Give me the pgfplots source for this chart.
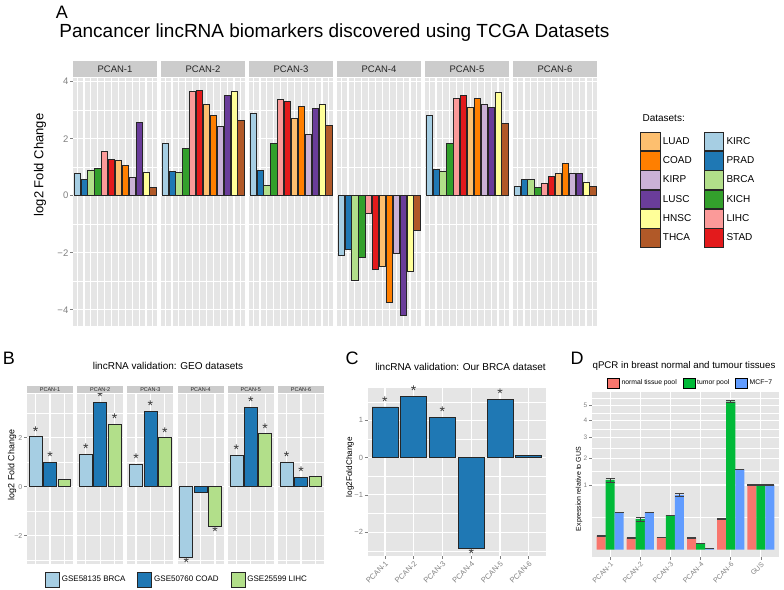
\documentclass[border=0pt]{standalone}
\usepackage{fontspec}
\setmainfont{Liberation Sans}
\usepackage{pgfplots}
\pgfplotsset{compat=1.18}
\usepackage{pgfplotstable}

\definecolor{c1}{HTML}{A6CEE3}
\definecolor{c2}{HTML}{1F78B4}
\definecolor{c3}{HTML}{B2DF8A}
\definecolor{c4}{HTML}{33A02C}
\definecolor{c5}{HTML}{FB9A99}
\definecolor{c6}{HTML}{E31A1C}
\definecolor{c7}{HTML}{FDBF6F}
\definecolor{c8}{HTML}{FF7F00}
\definecolor{c9}{HTML}{CAB2D6}
\definecolor{c10}{HTML}{6A3D9A}
\definecolor{c11}{HTML}{FFFF99}
\definecolor{c12}{HTML}{B15928}
\definecolor{bg}{HTML}{E5E5E5}
\definecolor{strip}{HTML}{CCCCCC}
\definecolor{grey50}{HTML}{7F7F7F}
\definecolor{dR}{HTML}{F8766D}
\definecolor{dG}{HTML}{00BA38}
\definecolor{dB}{HTML}{619CFF}

\newcommand\fs[1]{\fontsize{#1}{#1}\selectfont}

% Panel A: rows = datasets KIRC PRAD BRCA KICH LIHC STAD LUAD COAD KIRP LUSC HNSC THCA
\pgfplotstableread{
idx P1 P2 P3 P4 P5 P6
1 0.77 1.82 2.88 -2.08 2.83 0.34
2 0.57 0.87 0.88 -1.88 0.94 0.56
3 0.90 0.83 0.36 -2.96 0.87 0.56
4 0.96 1.65 1.85 -2.15 1.84 0.30
5 1.56 3.65 3.39 -0.62 3.40 0.42
6 1.29 3.68 3.32 -2.57 3.51 0.68
7 1.23 3.19 2.71 -2.49 3.11 0.77
8 1.08 2.83 3.12 -3.75 3.43 1.15
9 0.63 2.42 2.15 -2.01 3.19 0.78
10 2.56 3.53 3.06 -4.19 3.09 0.80
11 0.83 3.66 3.22 -2.67 3.63 0.47
12 0.29 2.64 2.46 -1.23 2.54 0.34
}\dataA

% Panel D: expression relative to GUS (n = normal tissue pool, t = tumor pool, m = MCF-7); errors on sqrt scale
\pgfplotstableread{
g n t m en et em
1 0.044 1.161 0.332 0.003 0.030 0.003
2 0.032 0.223 0.332 0.003 0.030 0.003
3 0.035 0.280 0.714 0.003 0.004 0.025
4 0.032 0.009 0.0003 0.003 0.003 0.003
5 0.228 5.256 1.545 0.003 0.018 0.003
6 1 1 1 0.003 0.003 0.003
}\dataD

\pgfplotsset{
 gg/.style={scale only axis, anchor=south west, ybar,
   axis background/.style={fill=bg}, axis line style={draw=none},
   xmajorgrids, ymajorgrids, yminorgrids,
   major grid style={white, line width=1.1pt},
   minor grid style={white, line width=0.5pt},
   tick pos=left, tick align=outside, major tick length=3pt, minor tick length=0pt,
   tick style={grey50, line width=0.6pt},
   ticklabel style={text=grey50}},
 facetA/.style={width=84pt, height=248pt, xmin=0.4, xmax=12.6, ymin=-4.57, ymax=4.13,
   xtick={1,...,12}, xticklabels={}, xtick style={draw=none},
   ytick={-4,-2,0,2,4}, minor ytick={-3,-1,1,3}, yticklabels={}, major tick length=0pt,
   yticklabel style={font=\fs{9.5}, inner sep=1.5pt},
   every axis title/.style={at={(0.5,1)}, anchor=south, yshift=1pt, fill=strip,
     minimum width=84pt, minimum height=15.5pt, inner sep=0pt, font=\fs{9.5}, text=black!85}},
 facetB/.style={width=46pt, height=170pt, xmin=0.4, xmax=3.6, ymin=-3.15, ymax=3.78,
   xtick={1,2,3}, xticklabels={}, xtick style={draw=none},
   ytick={-2,0,2}, minor ytick={-3,-1,1,3}, yticklabels={}, major tick length=0pt,
   yticklabel style={font=\fs{7}, inner sep=1.5pt},
   every axis title/.style={at={(0.5,1)}, anchor=south, yshift=0.5pt, fill=strip,
     minimum width=46pt, minimum height=7.5pt, inner sep=0pt, font=\fs{5.5}, text=black!85}},
 S/.style={nodes near coords={*}, nodes near coords style={font=\fs{14}, text=black!80, inner sep=0.3pt}},
 N/.style={},
 bbar/.style={bar width=0.9, bar shift=0pt, draw=black!85, line width=0.7pt},
}

\newcommand\facetA[4]{%
\begin{axis}[gg, facetA, at={(#1pt,263pt)}, title={#3}, #4]
\pgfplotsinvokeforeach{1,...,12}{%
 \addplot[bbar, fill=c##1, restrict x to domain=##1:##1] table[x=idx, y=#2]{\dataA};
}
\end{axis}}

\newcommand\facetB[9]{%
\begin{axis}[gg, facetB, at={(#1pt,25pt)}, title={#2}, #9]
\addplot[bbar, fill=c1, #6] coordinates {(1,#3)};
\addplot[bbar, fill=c2, #7] coordinates {(2,#4)};
\addplot[bbar, fill=c3, #8] coordinates {(3,#5)};
\end{axis}}

\begin{document}
\begin{tikzpicture}[x=1pt,y=1pt]
\path[use as bounding box] (0,0) rectangle (784,589);

% ---------------- Panel A ----------------
\facetA{73}{P1}{PCAN-1}{major tick length=3pt, yticklabels={−4,−2,0,2,4}}
\facetA{161}{P2}{PCAN-2}{}
\facetA{249}{P3}{PCAN-3}{}
\facetA{337}{P4}{PCAN-4}{}
\facetA{425}{P5}{PCAN-5}{}
\facetA{513}{P6}{PCAN-6}{}

\begin{axis}[hide axis, scale only axis, width=1pt, height=1pt, anchor=south west,
  at={(640pt,457.3pt)}, xmin=0, xmax=1, ymin=0, ymax=1,
  legend columns=2, legend cell align=left,
  legend style={at={(0,0)}, anchor=north west, draw=none, fill=none, inner sep=0pt,
    row sep=0pt, font=\fs{10}, nodes={inner sep=0pt},
    /tikz/every odd column/.append style={column sep=2.5pt},
    /tikz/every even column/.append style={column sep=12pt}},
  legend image code/.code={\draw[#1] (0pt,-9.3pt) rectangle (19.5pt,9.3pt);}]
\addlegendimage{fill=c7, draw=black!85, line width=0.7pt}\addlegendentry{LUAD}
\addlegendimage{fill=c1, draw=black!85, line width=0.7pt}\addlegendentry{KIRC}
\addlegendimage{fill=c8, draw=black!85, line width=0.7pt}\addlegendentry{COAD}
\addlegendimage{fill=c2, draw=black!85, line width=0.7pt}\addlegendentry{PRAD}
\addlegendimage{fill=c9, draw=black!85, line width=0.7pt}\addlegendentry{KIRP}
\addlegendimage{fill=c3, draw=black!85, line width=0.7pt}\addlegendentry{BRCA}
\addlegendimage{fill=c10, draw=black!85, line width=0.7pt}\addlegendentry{LUSC}
\addlegendimage{fill=c4, draw=black!85, line width=0.7pt}\addlegendentry{KICH}
\addlegendimage{fill=c11, draw=black!85, line width=0.7pt}\addlegendentry{HNSC}
\addlegendimage{fill=c5, draw=black!85, line width=0.7pt}\addlegendentry{LIHC}
\addlegendimage{fill=c12, draw=black!85, line width=0.7pt}\addlegendentry{THCA}
\addlegendimage{fill=c6, draw=black!85, line width=0.7pt}\addlegendentry{STAD}
\end{axis}

\node[anchor=west, font=\fs{10}] at (639,471) {Datasets:};
\node[font=\fs{18}] at (62,577) {A};
\node[font=\fs{19}] at (334.5,556) {Pancancer lincRNA biomarkers discovered using TCGA Datasets};
\node[rotate=90, font=\fs{13}] at (40,424) {log2 Fold Change};

% ---------------- Panel B ----------------
\facetB{27}{PCAN-1}{2.04}{0.99}{0.29}{S}{S}{N}{major tick length=3pt, yticklabels={−2,0,2}}
\facetB{77.2}{PCAN-2}{1.32}{3.44}{2.54}{S}{S}{S}{}
\facetB{127.4}{PCAN-3}{0.90}{3.07}{2.00}{S}{S}{S}{}
\facetB{177.6}{PCAN-4}{-2.86}{-0.24}{-1.62}{S}{N}{S}{}
\facetB{227.8}{PCAN-5}{1.27}{3.25}{2.16}{S}{S}{S}{}
\facetB{278}{PCAN-6}{0.99}{0.38}{0.44}{S}{S}{N}{}

\begin{axis}[hide axis, scale only axis, width=1pt, height=1pt, anchor=south west,
  at={(45pt,17.3pt)}, xmin=0, xmax=1, ymin=0, ymax=1,
  legend columns=-1, legend cell align=left,
  legend style={at={(0,0)}, anchor=north west, draw=none, fill=none, inner sep=0pt,
    font=\fs{8}, nodes={inner sep=0pt},
    /tikz/every odd column/.append style={column sep=2pt},
    /tikz/every even column/.append style={column sep=12pt}},
  legend image code/.code={\draw[#1] (0pt,-7.5pt) rectangle (14pt,7.5pt);}]
\addlegendimage{fill=c1, draw=black!85, line width=0.7pt}\addlegendentry{GSE58135 BRCA}
\addlegendimage{fill=c2, draw=black!85, line width=0.7pt}\addlegendentry{GSE50760 COAD}
\addlegendimage{fill=c3, draw=black!85, line width=0.7pt}\addlegendentry{GSE25599 LIHC}
\end{axis}

\node[font=\fs{18}] at (9,231) {B};
\node[font=\fs{10}] at (168,223) {lincRNA validation: GEO datasets};
\node[rotate=90, font=\fs{8.9}] at (12,124) {log2 Fold Change};

% ---------------- Panel C ----------------
\begin{axis}[gg, at={(367.7pt,33pt)}, width=178.3pt, height=168pt,
  xmin=0.4, xmax=6.6, ymin=-2.64, ymax=1.87,
  xtick={1,...,6}, xticklabels={PCAN-1,PCAN-2,PCAN-3,PCAN-4,PCAN-5,PCAN-6},
  ytick={-2,-1,0,1}, yticklabels={−2,−1,0,1}, minor ytick={-2.5,-1.5,-0.5,0.5,1.5},
  yticklabel style={font=\fs{7.5}, inner sep=1.5pt},
  xticklabel style={font=\fs{7.5}, rotate=45, anchor=north east, inner sep=1pt}]
\addplot[bbar, fill=c2, S] coordinates {(1,1.36) (2,1.65) (3,1.08) (4,-2.43) (5,1.56)};
\addplot[bbar, fill=c2] coordinates {(6,0.05)};
\end{axis}
\node[font=\fs{18}] at (352,231) {C};
\node[font=\fs{10}] at (460.5,222) {lincRNA validation: Our BRCA dataset};
\node[rotate=90, font=\fs{8.2}] at (350,122) {log2FoldChange};

% ---------------- Panel D ----------------
\begin{axis}[gg, at={(592pt,32pt)}, width=187pt, height=165pt,
  xmin=0.4, xmax=6.6, ymin=-0.116, ymax=2.44,
  xtick={1,...,6}, xticklabels={PCAN-1,PCAN-2,PCAN-3,PCAN-4,PCAN-6,GUS},
  ytick={1,1.41421,1.73205,2,2.23607}, yticklabels={1,2,3,4,5},
  minor ytick={0.5,1.20711,1.57313,1.86603,2.11803,2.34278},
  yticklabel style={font=\fs{6.5}, inner sep=1.5pt},
  xticklabel style={font=\fs{7}, rotate=45, anchor=north east, inner sep=1pt},
  error bars/error mark=|,
  error bars/error bar style={black!75, line width=0.5pt},
  error bars/error mark options={black!75, line width=0.6pt, mark size=4.5pt}]
\addplot[bar width=0.3, bar shift=-0.3, fill=dR, draw=none,
  error bars/.cd, y dir=both, y explicit]
  table[x=g, y expr={sqrt(\thisrow{n})}, y error=en]{\dataD};
\addplot[bar width=0.3, bar shift=0, fill=dG, draw=none,
  error bars/.cd, y dir=both, y explicit]
  table[x=g, y expr={sqrt(\thisrow{t})}, y error=et]{\dataD};
\addplot[bar width=0.3, bar shift=0.3, fill=dB, draw=none,
  error bars/.cd, y dir=both, y explicit]
  table[x=g, y expr={sqrt(\thisrow{m})}, y error=em]{\dataD};
\end{axis}

\begin{axis}[hide axis, scale only axis, width=1pt, height=1pt, anchor=south west,
  at={(607pt,211.3pt)}, xmin=0, xmax=1, ymin=0, ymax=1,
  legend columns=-1, legend cell align=left,
  legend style={at={(0,0)}, anchor=north west, draw=none, fill=none, inner sep=0pt,
    font=\fs{6.8}, nodes={inner sep=0pt},
    /tikz/every odd column/.append style={column sep=2pt},
    /tikz/every even column/.append style={column sep=6pt}},
  legend image code/.code={\fill[#1] (0pt,-5pt) rectangle (12pt,5pt);}]
\addlegendimage{fill=dR}\addlegendentry{normal tissue pool}
\addlegendimage{fill=dG}\addlegendentry{tumor pool}
\addlegendimage{fill=dB}\addlegendentry{MCF−7}
\end{axis}

\node[font=\fs{18}] at (577,231) {D};
\node[font=\fs{9.7}] at (684,223) {qPCR in breast normal and tumour tissues};
\node[rotate=90, font=\fs{7}] at (579,100) {Expression relative to GUS};
\end{tikzpicture}
\end{document}
